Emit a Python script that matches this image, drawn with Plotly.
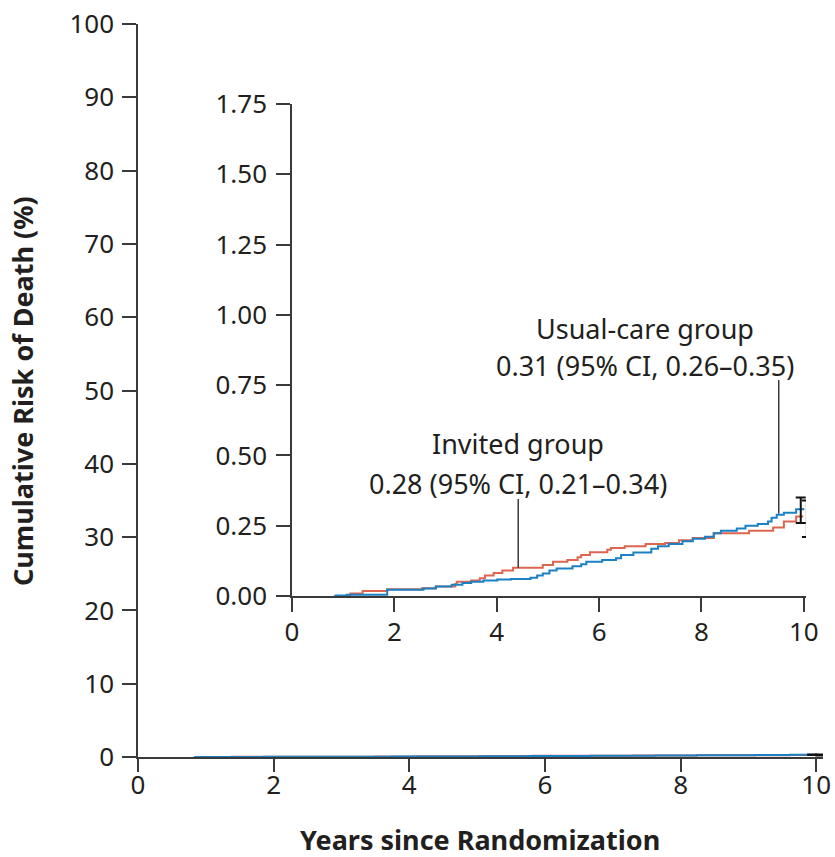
import plotly.graph_objects as go

# ---- data (years since randomization, cumulative risk %) ----
invited_t = [0.83, 1.14, 1.38, 1.86, 2.54, 2.81, 3.19, 3.22, 3.50, 3.67, 3.77, 3.94, 4.11, 4.32,
             4.90, 5.10, 5.38, 5.58, 5.65, 5.82, 6.16, 6.23, 6.50, 6.91, 7.29, 7.56, 7.83, 8.24,
             8.93, 9.40, 9.61, 9.85, 9.99]
invited_v = [0.000, 0.009, 0.018, 0.024, 0.028, 0.034, 0.043, 0.051, 0.055, 0.063, 0.073, 0.082,
             0.091, 0.101, 0.110, 0.122, 0.128, 0.138, 0.146, 0.156, 0.165, 0.171, 0.177, 0.185,
             0.189, 0.198, 0.206, 0.223, 0.232, 0.244, 0.265, 0.283, 0.283]

usual_t = [0.83, 1.07, 1.86, 2.57, 2.81, 3.12, 3.33, 3.50, 3.74, 4.01, 4.28, 4.66, 4.79, 4.90,
           5.03, 5.17, 5.48, 5.65, 5.75, 6.06, 6.33, 6.43, 6.67, 7.02, 7.15, 7.36, 7.63, 7.83,
           8.07, 8.24, 8.38, 8.69, 8.86, 9.10, 9.30, 9.37, 9.47, 9.61, 9.85, 9.99]
usual_v = [0.002, 0.005, 0.022, 0.027, 0.034, 0.040, 0.046, 0.051, 0.055, 0.059, 0.061, 0.065,
           0.073, 0.080, 0.091, 0.098, 0.106, 0.113, 0.122, 0.128, 0.134, 0.146, 0.155, 0.168,
           0.177, 0.185, 0.195, 0.204, 0.211, 0.223, 0.232, 0.240, 0.250, 0.256, 0.265, 0.278,
           0.289, 0.296, 0.309, 0.313]

# final estimates with 95% CI
groups = ["Usual-care group", "Invited group"]
ci_x = [9.94, 10.06]
ci_est = [0.31, 0.28]
ci_low = [0.26, 0.21]
ci_high = [0.35, 0.34]

# annotation anchors (year, label value, leader-line bottom, leader-line top)
usual_label = {"x_text": 6.89, "y_title": 0.953, "y_sub": 0.821, "x_line": 9.51, "y_bot": 0.293, "y_top": 0.768}
inv_label = {"x_text": 4.41, "y_title": 0.544, "y_sub": 0.402, "x_line": 4.42, "y_bot": 0.101, "y_top": 0.345}

main_xticks = [0, 2, 4, 6, 8, 10]
main_yticks = list(range(0, 101, 10))
inset_yticks = [0, 0.25, 0.5, 0.75, 1.0, 1.25, 1.5, 1.75]

RED = "#dc6650"
BLUE = "#1c80c4"
AX = "#3a3a3a"
TXT = "#231f20"
FONT = "Noto Sans"

fig = go.Figure()

for xa, ya in [("x", "y"), ("x2", "y2")]:
    fig.add_trace(go.Scatter(x=invited_t, y=invited_v, mode="lines", line=dict(color=RED, width=2, shape="hv"),
                             xaxis=xa, yaxis=ya, showlegend=False, hoverinfo="skip"))
    fig.add_trace(go.Scatter(x=usual_t, y=usual_v, mode="lines", line=dict(color=BLUE, width=2, shape="hv"),
                             xaxis=xa, yaxis=ya, showlegend=False, hoverinfo="skip"))
    fig.add_trace(go.Scatter(
        x=ci_x, y=ci_est, mode="markers", marker=dict(size=1, color="rgba(0,0,0,0)"),
        error_y=dict(type="data", symmetric=False,
                     array=[h - e for h, e in zip(ci_high, ci_est)],
                     arrayminus=[e - l for e, l in zip(ci_est, ci_low)],
                     color="#111111", thickness=2, width=5),
        xaxis=xa, yaxis=ya, showlegend=False, hoverinfo="skip"))

# leader lines
for lab in (usual_label, inv_label):
    fig.add_trace(go.Scatter(x=[lab["x_line"], lab["x_line"]], y=[lab["y_bot"], lab["y_top"]], mode="lines",
                             line=dict(color=AX, width=1.5), xaxis="x2", yaxis="y2",
                             showlegend=False, hoverinfo="skip"))

ann_font = dict(family=FONT, size=27, color=TXT)
fig.add_annotation(x=usual_label["x_text"], y=usual_label["y_title"], xref="x2", yref="y2",
                   text="Usual-care group", showarrow=False, font=ann_font)
fig.add_annotation(x=usual_label["x_text"], y=usual_label["y_sub"], xref="x2", yref="y2",
                   text="0.31 (95% CI, 0.26–0.35)", showarrow=False, font=ann_font)
fig.add_annotation(x=inv_label["x_text"], y=inv_label["y_title"], xref="x2", yref="y2",
                   text="Invited group", showarrow=False, font=ann_font)
fig.add_annotation(x=inv_label["x_text"], y=inv_label["y_sub"], xref="x2", yref="y2",
                   text="0.28 (95% CI, 0.21–0.34)", showarrow=False, font=ann_font)

# axis titles
title_font = dict(family=FONT, size=27, color=TXT)
fig.add_annotation(x=0.4993, y=-0.1132, xref="paper", yref="paper", xanchor="center", yanchor="middle",
                   text="<b>Years since Randomization</b>", showarrow=False, font=title_font)
fig.add_annotation(x=-0.1693, y=0.4993, xref="paper", yref="paper", xanchor="center", yanchor="middle",
                   textangle=-90, text="<b>Cumulative Risk of Death (%)</b>", showarrow=False, font=title_font)

tick_font = dict(family=FONT, size=26, color=TXT)
axis_common = dict(showline=True, linecolor=AX, linewidth=1.5, ticks="outside", tickcolor=AX,
                   tickwidth=1.5, showgrid=False, zeroline=False, tickfont=tick_font, automargin=False,
                   ticklabeloverflow="allow")

fig.update_layout(
    width=835, height=857,
    margin=dict(l=138, r=12, t=24, b=100),
    paper_bgcolor="white", plot_bgcolor="rgba(0,0,0,0)",
    font=dict(family=FONT, color=TXT),
    xaxis=dict(axis_common, range=[0, 10.1], tickvals=main_xticks, ticklen=13, domain=[0, 1],
               ticklabelstandoff=-9),
    yaxis=dict(axis_common, range=[0, 100], tickvals=main_yticks, ticklen=14, domain=[0, 1],
               ticklabelstandoff=3),
    xaxis2=dict(axis_common, range=[0, 10.04], tickvals=main_xticks, ticklen=14, anchor="y2",
                ticklabelstandoff=-2, domain=[0.2248, 0.975]),
    yaxis2=dict(axis_common, range=[0, 1.75], tickvals=inset_yticks, tickformat=".2f", ticklen=14,
                ticklabelstandoff=4, anchor="x2", domain=[0.2196, 0.8909]),
)

fig.write_html("out.html", config={"displayModeBar": False},
               post_script="document.body.style.margin='0';document.body.style.overflow='hidden';")
